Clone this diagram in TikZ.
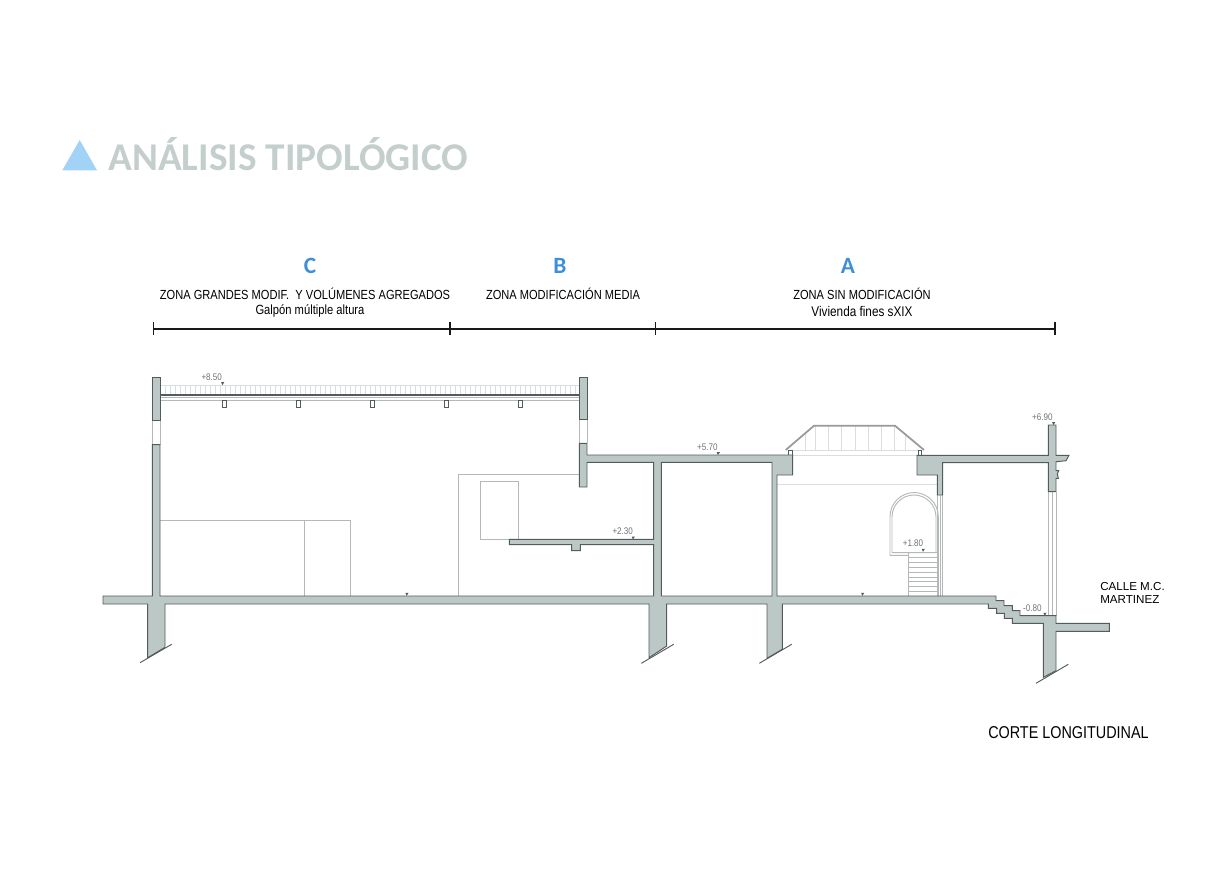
\documentclass[tikz,border=0pt]{standalone}
\usepackage{fontspec}
\setmainfont{Liberation Sans}
\newfontfamily\narrowf[FakeStretch=0.84]{Liberation Sans}
\newfontfamily\titlef[BoldFont={Carlito Bold}]{Carlito}
\definecolor{concrete}{HTML}{BCC8C6}
\definecolor{edge}{HTML}{525C5C}
\definecolor{thinline}{HTML}{B4B8B8}
\definecolor{hatch}{HTML}{DADEDE}
\definecolor{titlegrey}{HTML}{C4CFCD}
\definecolor{trianglecol}{HTML}{A3D2F7}
\definecolor{zonecol}{HTML}{3F8FD8}
\definecolor{levelcol}{HTML}{6E7373}
\tikzset{
  conc/.style={fill=concrete,draw=edge,line width=0.72pt,line join=miter,even odd rule},
  thin line/.style={draw=thinline,line width=0.7pt},
  hatch line/.style={draw=hatch,line width=0.5pt},
  ground cut/.style={draw=edge,line width=0.7pt},
  zone letter/.style={font=\titlef\fontsize{17.5}{19}\selectfont\bfseries,text=zonecol,inner sep=0pt},
  zone text/.style={font=\narrowf\fontsize{9.9}{11}\selectfont,text=black,inner sep=0pt},
  zone sub/.style={font=\narrowf\fontsize{10}{11}\selectfont,text=black,inner sep=0pt},
  level/.style={font=\narrowf\fontsize{7.2}{8}\selectfont,text=levelcol,inner sep=0pt},
  zone line/.style={draw=black!90,line width=0.85pt},
}
\newcommand{\lvlmark}[2]{\fill[edge] (#1-1.6,#2-1.2) -- (#1+1.6,#2-1.2) -- (#1-0.3,#2+1.8) -- cycle;}
\begin{document}
\begin{tikzpicture}[x=0.75pt,y=-0.75pt]
\useasboundingbox (0,0) rectangle (1228,868);
% title
\fill[trianglecol] (62.3,170.3) -- (79.7,140) -- (97,170.3) -- cycle;
\node[anchor=base west,inner sep=0pt,text=titlegrey,font=\titlef\fontsize{29.5}{32}\selectfont\bfseries] (title) at (108,170) {ANÁLISIS TIPOLÓGICO};
% zones
\node[zone letter] (zc) at (310,266) {C};
\node[zone letter] (zb) at (560,266) {B};
\node[zone letter] (za) at (848,266) {A};
\node[zone text] (tc) at (305,293.5) {ZONA GRANDES MODIF.\ \ Y VOLÚMENES AGREGADOS};
\node[zone text] (tb) at (563,293.5) {ZONA MODIFICACIÓN MEDIA};
\node[zone text] (ta) at (862,293.5) {ZONA SIN MODIFICACIÓN};
\node[zone sub] (sc) at (310,311) {Galpón múltiple altura};
\node[zone sub,font=\narrowf\fontsize{10.5}{11}\selectfont] (sa) at (862,311) {Vivienda fines sXIX};
\coordinate (m0) at (153.3,329);
\coordinate (m1) at (450,329);
\coordinate (m2) at (655.7,329);
\coordinate (m3) at (1055,329);
\draw[zone line] (m0) -- (m1) -- (m2) -- (m3);
\foreach \p in {m0,m1,m2,m3} \draw[zone line] ([yshift=5.2pt]\p) -- ([yshift=-4.6pt]\p);
% roof of gallery
\foreach \i in {0,...,83} \draw[hatch line] (160+\i*5,385) -- (160+\i*5,395);
\draw[hatch line] (160,385) -- (579,385);
\draw[thin line] (160,397.5) -- (579,397.5);
\draw[thin line] (160,400.5) -- (579,400.5);
\draw[draw=edge,line width=0.8pt] (160,395) -- (579,395);
\foreach \x in {222,296,370,444,518}
  \draw[draw=edge,fill=white,line width=0.45pt] (\x,400.5) rectangle (\x+3.8,407.7);
% furniture and thin lines
\draw[thin line] (160,520.3) -- (350.3,520.3) -- (350.3,596);
\draw[thin line] (304,520.3) -- (304,596);
\draw[thin line] (579.3,474) -- (458.3,474) -- (458.3,596);
\draw[thin line] (518.3,539.3) -- (518.3,481) -- (480.3,481) -- (480.3,539.3) -- (509.3,539.3);
\draw[thin line] (152.3,420) -- (152.3,444.7) (160,420) -- (160,444.7);
\draw[thin line] (579.3,419) -- (579.3,443.3) (587,419) -- (587,443.3);
% A interior
\draw[hatch line] (777,484.3) -- (937.3,484.3);
\draw[thin line] (937.3,495) -- (937.3,596) (940,495) -- (940,596) (942.7,495) -- (942.7,596);
\draw[thin line] (938.3,596) -- (938.3,516.7) arc[start angle=0,end angle=-180,radius=24.15] -- (890,555.3) -- (908.3,555.3);
\draw[thin line] (936,552.7) -- (936,517) arc[start angle=0,end angle=-180,radius=22] -- (892,552.7) -- (938.3,552.7);
\draw[thin line] (908.3,552.7) -- (908.3,596);
\foreach \i in {1,...,8} \draw[thin line] (908.3,552.7+\i*4.87) -- (938.3,552.7+\i*4.87);
% skylight
\foreach \x/\yy in {805/433.4,815.7/425.7,828.7/425.7,841.7/425.7,855/425.7,868.3/425.7,881.3/425.7,894.3/425.7,905/433.7}
  \draw[hatch line,line width=0.6pt] (\x,\yy) -- (\x,450);
\draw[hatch line] (789,450) -- (921,450);
\draw[hatch line] (792.7,455.3) -- (917,455.3);
\draw[draw=edge,line width=0.4pt,fill=white] (788,450) rectangle (792,455);
\draw[draw=edge,line width=0.4pt,fill=white] (918,450) rectangle (921,455);
\draw[draw=black!40,line width=1.3pt] (785.7,450) -- (814,425.7) -- (895,425.7) -- (924,450);
% window front
\draw[thin line] (1048.3,491.7) -- (1048.3,615.7) (1052.3,491.7) -- (1052.3,615.7) (1056.7,491.7) -- (1056.7,615.7);
% concrete
\path[conc] (152.3,377.7) rectangle (160,420);
\path[conc] (579.3,377.7) rectangle (587,419);
\path[conc] (103,596) -- (152.3,596) -- (152.3,444.7) -- (160,444.7) -- (160,596)
  -- (653.7,596) -- (653.7,544.7) -- (580.3,544.7) -- (580.3,550.7) -- (571.7,550.7) -- (571.7,544.7)
  -- (509.3,544.7) -- (509.3,539.3) -- (653.7,539.3) -- (653.7,462.3) -- (587,462.3) -- (587,487)
  -- (579.3,487) -- (579.3,443.3) -- (587,443.3) -- (587,455) -- (792.7,455) -- (792.7,475)
  -- (777,475) -- (777,596) -- (996,596) -- (996,600.7) -- (1004,600.7) -- (1004,605.7)
  -- (1012.3,605.7) -- (1012.3,610.7) -- (1020,610.7) -- (1020,615.7) -- (1056,615.7)
  -- (1056,623.3) -- (1109.3,623.3) -- (1109.3,631.3) -- (1056,631.3) -- (1056,670.7)
  -- (1043.3,677.3) -- (1043.3,623.3) -- (1012.3,623.3) -- (1012.3,618.3) -- (1004.3,618.3)
  -- (1004.3,613.3) -- (996.7,613.3) -- (996.7,608.3) -- (988.3,608.3) -- (988.3,604)
  -- (782.3,604) -- (782.3,649.3) -- (767,658.3) -- (767,604) -- (666.7,604) -- (666.7,646)
  -- (649,657.7) -- (649,604) -- (165,604) -- (165,647.3) -- (147.7,657.7) -- (147.7,604)
  -- (103,604) -- cycle
  (661.3,462.3) -- (772,462.3) -- (772,596) -- (661.3,596) -- cycle;
\path[conc] (917,455.3) -- (1048.3,455.3) -- (1048.3,425) -- (1056,425) -- (1056,455.3) -- (1069,455.3)
  -- (1067.3,458.3) -- (1066,460.7) -- (1056,461.7) -- (1056,470.7) -- (1058.7,470.7) -- (1057.3,474)
  -- (1058.3,478.3) -- (1056,478.3) -- (1056,491.7) -- (1048.3,491.7) -- (1048.3,462.7) -- (942.7,462.7)
  -- (942.7,495) -- (937.3,495) -- (937.3,475) -- (917,475) -- cycle;
% foundation cuts
\draw[ground cut] (140,662.7) -- (171.7,644.3);
\draw[ground cut] (641.3,663.3) -- (673.7,644.3);
\draw[ground cut] (759.3,663.3) -- (791.7,644.3);
\draw[ground cut] (1036,683.3) -- (1068.3,664.3);
% levels
\node[level] (l850) at (211.7,377.3) {+8.50}; \lvlmark{222.7}{383.3}
\node[level] (l570) at (707.3,446.7) {+5.70}; \lvlmark{718.3}{453.3}
\node[level] (l230) at (622.7,530.7) {+2.30}; \lvlmark{633.3}{537.7}
\node[level] (l180) at (913,543.3) {+1.80}; \lvlmark{923.3}{550}
\node[level] (l690) at (1042.3,416.7) {+6.90}; \lvlmark{1053.7}{423.3}
\node[level] (l080) at (1032.3,607.7) {-0.80}; \lvlmark{1045}{614}
\lvlmark{407}{594}
\lvlmark{862.7}{594}
% street and title
\node[anchor=west,align=left,inner sep=0pt,font=\fontsize{8.7}{9.9}\selectfont] (street) at (1100,592.7) {CALLE M.C.\\MARTINEZ};
\node[anchor=west,inner sep=0pt,font=\narrowf\fontsize{12.85}{15}\selectfont] (corte) at (988,733) {CORTE LONGITUDINAL};
\end{tikzpicture}
\end{document}
